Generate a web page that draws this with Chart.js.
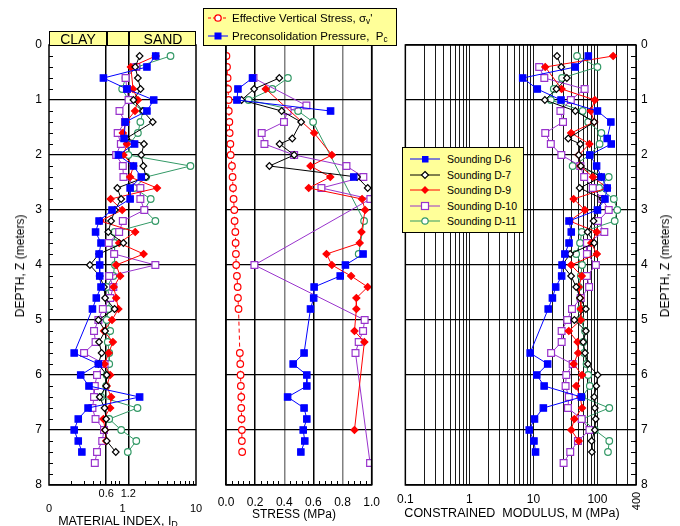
<!DOCTYPE html>
<html>
<head>
<meta charset="utf-8">
<script src="https://cdn.jsdelivr.net/npm/chart.js@4.4.0/dist/chart.umd.min.js"></script>
<style>
  body { margin:0; width:680px; height:526px; overflow:hidden; background:#fff; position:relative;
         font-family:"Liberation Sans", Arial, sans-serif; color:#000; }
  canvas { position:absolute; top:0; }
  .t { position:absolute; white-space:nowrap; line-height:14px; }
  .c { transform:translate(-50%,-50%); }
  .rot { transform:translate(-50%,-50%) rotate(-90deg); }
  sub { font-size:0.72em; vertical-align:-0.25em; line-height:0; }
  .box { position:absolute; background:#ffff99; border:1px solid #000; box-sizing:border-box; }
  .row { position:absolute; left:0; height:14px; white-space:nowrap; }
  .row svg { position:absolute; top:0; }
  .row span { position:absolute; top:0; line-height:14px; }
</style>
</head>
<body>
<canvas id="c1" width="210" height="540" style="left:0"></canvas>
<canvas id="c2" width="190" height="540" style="left:200px"></canvas>
<canvas id="c3" width="290" height="540" style="left:390px"></canvas>

<!-- CLAY / SAND header over the material index panel -->
<div class="box" style="left:49px;top:31px;width:147px;height:15px;">
  <div style="position:absolute;left:56px;top:0;width:1.5px;height:14px;background:#000"></div>
  <div style="position:absolute;left:78px;top:0;width:1.5px;height:14px;background:#000"></div>
  <div class="t c" style="left:28px;top:7px;font-size:14px">CLAY</div>
  <div class="t c" style="left:113px;top:7px;font-size:14px">SAND</div>
</div>

<!-- stress legend -->
<div class="box" style="left:203px;top:8px;width:194px;height:38px;font-size:11.5px">
  <div class="row" style="top:2px;width:190px">
    <svg width="26" height="14" style="left:2px"><line x1="2" y1="7" x2="22" y2="7" stroke="#ff0000" stroke-dasharray="3,2"/><circle cx="12" cy="7" r="3.2" fill="#fff" stroke="#ff0000" stroke-width="1.3"/></svg>
    <span style="left:28px">Effective Vertical Stress, &sigma;<sub>v</sub>'</span>
  </div>
  <div class="row" style="top:20px;width:190px">
    <svg width="26" height="14" style="left:2px"><line x1="2" y1="7" x2="22" y2="7" stroke="#0000ff"/><rect x="8.5" y="3.5" width="7" height="7" fill="#0000ff"/></svg>
    <span style="left:28px">Preconsolidation Pressure,&nbsp; P<sub>c</sub></span>
  </div>
</div>

<!-- modulus legend -->
<div class="box" style="left:402px;top:147px;width:122px;height:86px;font-size:10.5px">
  <div class="row" style="top:4px;width:120px">
    <svg width="40" height="14" style="left:5px"><line x1="2" y1="7" x2="32" y2="7" stroke="#0000ff"/><rect x="14" y="4" width="6.5" height="6.5" fill="#0000ff"/></svg>
    <span style="left:44px">Sounding D-6</span>
  </div>
  <div class="row" style="top:19.5px;width:120px">
    <svg width="40" height="14" style="left:5px"><line x1="2" y1="7" x2="32" y2="7" stroke="#000"/><polygon points="17,3.5 20.5,7 17,10.5 13.5,7" fill="#fff" stroke="#000" stroke-width="1.2"/></svg>
    <span style="left:44px">Sounding D-7</span>
  </div>
  <div class="row" style="top:35px;width:120px">
    <svg width="40" height="14" style="left:5px"><line x1="2" y1="7" x2="32" y2="7" stroke="#ff0000"/><polygon points="17,3 21,7 17,11 13,7" fill="#ff0000"/></svg>
    <span style="left:44px">Sounding D-9</span>
  </div>
  <div class="row" style="top:50.5px;width:120px">
    <svg width="40" height="14" style="left:5px"><line x1="2" y1="7" x2="32" y2="7" stroke="#9933cc"/><rect x="13.5" y="3.5" width="7" height="7" fill="#fff" stroke="#9933cc" stroke-width="1.2"/></svg>
    <span style="left:44px">Sounding D-10</span>
  </div>
  <div class="row" style="top:66px;width:120px">
    <svg width="40" height="14" style="left:5px"><line x1="2" y1="7" x2="32" y2="7" stroke="#339966"/><circle cx="17" cy="7" r="3.2" fill="#fff" stroke="#339966" stroke-width="1.2"/></svg>
    <span style="left:44px">Sounding D-11</span>
  </div>
</div>

<!-- axis titles -->
<div class="t rot" style="left:20px;top:266px;font-size:12px">DEPTH, Z (meters)</div>
<div class="t rot" style="left:665px;top:266px;font-size:12px">DEPTH, Z (meters)</div>
<div class="t c" style="left:118px;top:521px;font-size:12.5px">MATERIAL INDEX, I<sub>D</sub></div>
<div class="t c" style="left:294px;top:514px;font-size:12px">STRESS (MPa)</div>
<div class="t c" style="left:512px;top:513px;font-size:12.5px">CONSTRAINED&nbsp; MODULUS, M (MPa)</div>
<div class="t rot" style="left:636px;top:501px;font-size:11px">400</div>

<script>
// ---- depths (m) of the CPT/DMT readings ----
const DEPTHS = [0.2,0.4,0.6,0.8,1.0,1.2,1.4,1.6,1.8,2.0,2.2,2.4,2.6,2.8,3.0,3.2,3.4,3.6,3.8,4.0,
                4.2,4.4,4.6,4.8,5.0,5.2,5.4,5.6,5.8,6.0,6.2,6.4,6.6,6.8,7.0,7.2,7.4,7.6];
// D-6 and D-7 were read at 1.7 m instead of 1.6 m
const DEPTHS_B = [0.2,0.4,0.6,0.8,1.0,1.2,1.4,1.7,1.8,2.0,2.2,2.4,2.6,2.8,3.0,3.2,3.4,3.6,3.8,4.0,
                  4.2,4.4,4.6,4.8,5.0,5.2,5.4,5.6,5.8,6.0,6.2,6.4,6.6,6.8,7.0,7.2,7.4,7.6];

// ---- material index I_D ----
const ID_D6  = [2.83,2.15,0.55,1.15,2.66,2.15,1.09,1.05,1.46,0.88,1.41,1.8,1.27,1.27,0.72,0.48,0.43,0.51,0.48,0.49,
                0.49,0.51,0.44,0.39,null,null,null,0.22,0.47,0.27,0.35,1.71,0.34,0.25,0.22,0.25,0.28,null];
const ID_D7  = [1.71,1.49,1.62,1.76,1.41,1.9,2.58,1.12,1.96,1.8,1.92,2.09,0.85,0.96,0.79,0.70,0.64,1.03,0.48,0.36,
                0.49,0.56,0.58,0.78,0.47,0.58,0.48,0.52,0.47,0.61,0.60,0.49,0.57,0.60,0.58,0.61,0.81,null];
const ID_D9  = [2.83,1.30,null,1.39,1.62,1.48,1.12,1.01,1.15,1.03,1.41,1.27,2.95,0.69,0.99,0.50,1.49,0.90,1.94,0.82,
                0.93,0.76,0.82,0.88,0.72,0.56,0.74,0.65,0.57,0.68,0.61,0.70,0.68,0.55,0.58,0.60,null,null];
const ID_D10 = [null,1.54,1.10,1.15,1.21,0.91,1.08,0.86,0.95,0.82,1.01,1.03,1.75,1.75,1.98,1.01,0.90,0.65,0.77,2.80,
                0.66,0.75,0.68,0.54,0.47,0.41,0.43,0.30,0.57,0.45,0.42,0.41,0.39,0.43,0.56,0.53,0.45,0.42];
const ID_D11 = [4.5,1.57,1.10,0.99,1.21,1.90,1.75,1.62,1.25,1.20,8.4,2.09,1.44,2.42,1.98,2.80,0.78,0.78,0.77,0.79,
                0.75,0.61,0.68,0.64,0.61,0.68,0.63,0.66,0.66,0.61,0.60,0.51,1.60,0.66,0.96,1.54,1.18,null];
const ID_LINES = [0.6, 1.2];
const ID_TICKS = [0.1, 1, 10];
const ID_TICK_LABELS = ['0', '1', '10'];

// ---- stresses (MPa) ----
const SIGMA_DEPTHS = [0.2,0.4,0.6,0.8,1.0,1.2,1.4,1.6,1.8,2.0,2.2,2.4,2.6,2.8,3.0,3.2,3.4,3.6,3.8,4.0,4.2,4.4,4.6,4.8,
                      5.6,5.8,6.0,6.2,6.4,6.6,6.8,7.0,7.2,7.4];
const SIGMA_V = [0.003,0.007,0.011,0.014,0.018,0.019,0.023,0.025,0.03,0.032,0.041,0.045,0.048,0.052,0.057,0.059,
                 0.064,0.066,0.068,0.07,0.075,0.08,0.082,0.086,0.095,0.098,0.1,0.102,0.105,0.105,0.107,0.109,0.109,0.111];
const PC_D6_DEPTHS = [0.6,0.8,1.0,1.2,1.8,2.4,3.1,3.8,4.0,4.2,4.4,4.6,4.8,5.6,5.8,6.0,6.2,6.4,6.6,6.8,7.0,7.2,7.4];
const PC_D6 = [0.182,0.082,0.075,0.718,null,0.877,null,0.941,0.82,0.784,0.605,0.602,0.58,0.536,0.461,0.555,0.555,
               0.423,0.536,0.555,0.53,0.541,0.514];
const PC_D7_DEPTHS = [0.6,0.8,1.0,1.2,1.4,1.7,1.8,2.0,2.2,2.4,2.6];
const PC_D7 = [0.366,0.193,0.107,0.382,0.516,0.455,0.368,0.468,0.298,0.9,0.973];
const PC_D9_DEPTHS = [0.8,1.6,2.0,2.2,2.4,2.6,2.8,3.0,3.4,3.6,3.8,4.0,4.2,4.4,4.6,4.8,5.2,5.4,7.0];
const PC_D9 = [0.273,0.605,0.727,0.58,0.716,0.568,0.934,0.955,0.93,0.918,0.69,0.727,0.859,0.973,0.895,0.895,0.882,0.95,0.882];
const PC_D10_DEPTHS = [0.6,1.1,1.2,1.4,1.6,1.8,2.0,2.2,2.4,2.6,2.8,4.0,5.0,5.2,5.4,5.6,7.6];
const PC_D10 = [0.189,0.552,0.423,0.398,0.245,0.264,0.468,0.827,0.943,0.655,0.991,0.195,0.952,0.941,0.911,0.889,0.989];
const PC_D11_DEPTHS = [0.6,0.8,1.0,1.2,1.4,3.2,3.8];
const PC_D11 = [0.425,0.318,0.155,0.495,0.598,0.948,0.911];

// ---- constrained modulus M (MPa) ----
const M_D6  = [72,45,6.8,11.5,27,100,162,142,164,76,97,115,142,131,100,36,39,36,31,28,
               27.6,22.3,19.8,17,null,null,null,8.9,16.7,11.3,14.7,56,14.3,10.4,8.6,10.2,10.8,null];
const M_D7  = [23.4,27.3,33.3,22.9,15.1,45.2,89,35,54,51,55,115,52.8,121,100,87,70,89,37.5,28.2,
               38.8,46.5,53.5,66,43.6,66,60,64,71,101,96,89,91,94,91,81,82,null];
const M_D9  = [176,15.3,null,27.6,91,79,89,38.8,75,51,54,85,142,42.5,63.6,36.7,98,80,98,38.8,
               57,51,54,55,55,35.7,49,50,42.5,57.5,46.5,54,57.5,43.6,39,51,null,null];
const M_D10 = [null,12.3,14.8,63,38.4,26.4,29,15.3,18.7,27.3,54,62,84.5,119,150,102,128,68.5,68.5,94.5,
               68.5,74,55,40,33.8,27.6,27.6,18.9,41,32.6,31.8,35.7,34.6,56.7,75,49.6,37.6,29.6];
const M_D11 = [48,100,28,20.8,18.7,58.7,71.7,115,108,76,41,150,106,180,204,186,57,53.5,46.5,57.5,
               55,51,53.5,55,55,64,60,62,67.7,71.7,76,57.5,153,57.5,91,153,146,null];
const M_TICK_LABELS = [0.1, 1, 10, 100];

// ---- look ----
Chart.defaults.font.family = '"Liberation Sans", Arial, sans-serif';
Chart.defaults.font.size = 11;
Chart.defaults.color = '#000';

const STYLE = {
  d6:  { color:'#0000ff', style:'rect',    r:4.5, fill:'#0000ff' },
  d7:  { color:'#000000', style:'rectRot', r:3.3, fill:'#ffffff' },
  d9:  { color:'#ff0000', style:'rectRot', r:3.5, fill:'#ff0000' },
  d10: { color:'#9933cc', style:'rect',    r:4.8, fill:'#ffffff' },
  d11: { color:'#339966', style:'circle',  r:3.3, fill:'#ffffff' },
  sv:  { color:'#ff0000', style:'circle',  r:3.3, fill:'#ffffff' }
};

// keepGaps: a null value breaks the line instead of being skipped
function pts(depths, vals, keepGaps) {
  const out = [];
  depths.forEach((d, i) => {
    if (vals[i] == null && !keepGaps) return;
    out.push({ x: vals[i], y: d });
  });
  return out;
}

function ds(s, data, extra) {
  return Object.assign({
    data, showLine: true, tension: 0,
    borderColor: s.color, borderWidth: 1,
    pointStyle: s.style, pointRadius: s.r, pointHoverRadius: s.r,
    pointBackgroundColor: s.fill, pointBorderColor: s.color, pointBorderWidth: 1.2
  }, extra || {});
}

// frame around the plot plus the small inward ticks
const framePlugin = {
  id: 'frame',
  afterDraw(chart, args, o) {
    const { ctx, chartArea: a, scales } = chart;
    ctx.save();
    ctx.strokeStyle = '#000';
    ctx.lineWidth = 1;
    if (o.depthSide) {
      for (let k = 1; k < 40; k++) {
        if (k % 5 === 0) continue;
        const py = Math.round(scales.y.getPixelForValue(k * 0.2)) + 0.5;
        const x0 = o.depthSide === 'left' ? a.left : a.right;
        const x1 = o.depthSide === 'left' ? a.left + 4 : a.right - 5;
        ctx.beginPath(); ctx.moveTo(x0, py); ctx.lineTo(x1, py); ctx.stroke();
      }
    }
    (o.bottomTicks || []).forEach(v => {
      const px = Math.round(scales.x.getPixelForValue(v)) + 0.5;
      ctx.beginPath(); ctx.moveTo(px, a.bottom); ctx.lineTo(px, a.bottom - 4); ctx.stroke();
    });
    ctx.lineWidth = 1.5;
    ctx.strokeRect(a.left, a.top, a.right - a.left, a.bottom - a.top);
    ctx.restore();
  }
};

const depthAxis = (pos, width, pad, showLabels) => ({
  type: 'linear', position: pos, reverse: true, min: 0, max: 8,
  afterFit: s => { s.width = width; },
  border: { display: false },
  grid: { color: '#000', lineWidth: 1.3, drawTicks: false },
  ticks: { display: showLabels, stepSize: 1, padding: pad, font: { size: 12 } }
});

const common = {
  responsive: false, animation: false, events: [],
  plugins: { legend: { display: false }, tooltip: { enabled: false } }
};

// ---------- panel 1: material index ----------
const logMinor = [0.2,0.3,0.4,0.5,0.7,0.8,0.9,2,3,4,5,6,7,8,9];
new Chart(document.getElementById('c1'), {
  type: 'scatter',
  data: { datasets: [
    ds(STYLE.d6,  pts(DEPTHS_B, ID_D6)),
    ds(STYLE.d7,  pts(DEPTHS_B, ID_D7)),
    ds(STYLE.d9,  pts(DEPTHS, ID_D9)),
    ds(STYLE.d10, pts(DEPTHS, ID_D10)),
    ds(STYLE.d11, pts(DEPTHS, ID_D11))
  ]},
  options: Object.assign({}, common, {
    layout: { padding: { left: 0, right: 14, top: 45, bottom: 0 } },
    plugins: Object.assign({}, common.plugins, { frame: { depthSide: 'left', bottomTicks: logMinor } }),
    scales: {
      x: {
        type: 'logarithmic', position: 'bottom', min: 0.1, max: 10,
        afterBuildTicks: s => { s.ticks = ID_LINES.map(v => ({ value: v })); },
        afterFit: s => { s.height = 14; },
        border: { display: false },
        grid: { color: '#000', lineWidth: 1.5, drawTicks: false },
        ticks: { autoSkip: false, maxRotation: 0, padding: 2, callback: v => String(v) }
      },
      x2: {
        type: 'logarithmic', position: 'bottom', min: 0.1, max: 10,
        afterBuildTicks: s => { s.ticks = ID_TICKS.map(v => ({ value: v })); },
        afterFit: s => { s.height = 41; },
        border: { display: false },
        grid: { display: false, drawTicks: false },
        ticks: { autoSkip: false, maxRotation: 0, padding: 3,
                 callback: v => ID_TICK_LABELS[ID_TICKS.indexOf(v)] }
      },
      y: depthAxis('left', 49, 7, true)
    }
  }),
  plugins: [framePlugin]
});

// ---------- panel 2: stresses ----------
const stressMinor = [];
for (let k = 1; k < 25; k++) if (k % 5) stressMinor.push(k * 0.04);
new Chart(document.getElementById('c2'), {
  type: 'scatter',
  data: { datasets: [
    ds(STYLE.d6,  pts(PC_D6_DEPTHS, PC_D6, true), { spanGaps: false }),
    ds(STYLE.d7,  pts(PC_D7_DEPTHS, PC_D7)),
    ds(STYLE.d9,  pts(PC_D9_DEPTHS, PC_D9)),
    ds(STYLE.d10, pts(PC_D10_DEPTHS, PC_D10)),
    ds(STYLE.d11, pts(PC_D11_DEPTHS, PC_D11)),
    ds(STYLE.sv,  pts(SIGMA_DEPTHS, SIGMA_V), { borderDash: [4, 3] })
  ]},
  options: Object.assign({}, common, {
    layout: { padding: { left: 26, right: 18, top: 45, bottom: 0 } },
    plugins: Object.assign({}, common.plugins, { frame: { bottomTicks: stressMinor } }),
    scales: {
      x: {
        type: 'linear', position: 'bottom', min: 0, max: 1,
        afterFit: s => { s.height = 55; },
        border: { display: false },
        grid: { lineWidth: 1.5, drawTicks: false,
                color: c => (Math.abs(c.tick.value - 0.4) < 1e-6 || Math.abs(c.tick.value - 0.8) < 1e-6) ? '#808080' : '#000' },
        ticks: { stepSize: 0.2, padding: 10, maxRotation: 0, autoSkip: false,
                 font: { size: 12 }, callback: v => v.toFixed(1) }
      },
      y: depthAxis('left', 0, 0, false)
    }
  }),
  plugins: [framePlugin]
});

// ---------- panel 3: constrained modulus ----------
const modGrid = [];
[0.1, 1, 10, 100].forEach(dec => { for (let m = 1; m <= 9; m++) if (dec * m <= 400) modGrid.push(+(dec * m).toPrecision(3)); });
new Chart(document.getElementById('c3'), {
  type: 'scatter',
  data: { datasets: [
    ds(STYLE.d6,  pts(DEPTHS_B, M_D6)),
    ds(STYLE.d7,  pts(DEPTHS_B, M_D7)),
    ds(STYLE.d9,  pts(DEPTHS, M_D9)),
    ds(STYLE.d10, pts(DEPTHS, M_D10)),
    ds(STYLE.d11, pts(DEPTHS, M_D11))
  ]},
  options: Object.assign({}, common, {
    layout: { padding: { left: 12, right: 14, top: 45, bottom: 0 } },
    plugins: Object.assign({}, common.plugins, { frame: { depthSide: 'right' } }),
    scales: {
      x: {
        type: 'logarithmic', position: 'bottom', min: 0.1, max: 400,
        afterBuildTicks: s => { s.ticks = modGrid.map(v => ({ value: v })); },
        afterFit: s => { s.height = 55; },
        border: { display: false },
        grid: { color: '#1a1a1a', lineWidth: 1, drawTicks: false },
        ticks: { autoSkip: false, maxRotation: 0, padding: 7, font: { size: 12 },
                 callback: v => M_TICK_LABELS.includes(v) ? String(v) : '' }
      },
      y: depthAxis('right', 30, 5, true)
    }
  }),
  plugins: [framePlugin]
});
</script>
</body>
</html>
